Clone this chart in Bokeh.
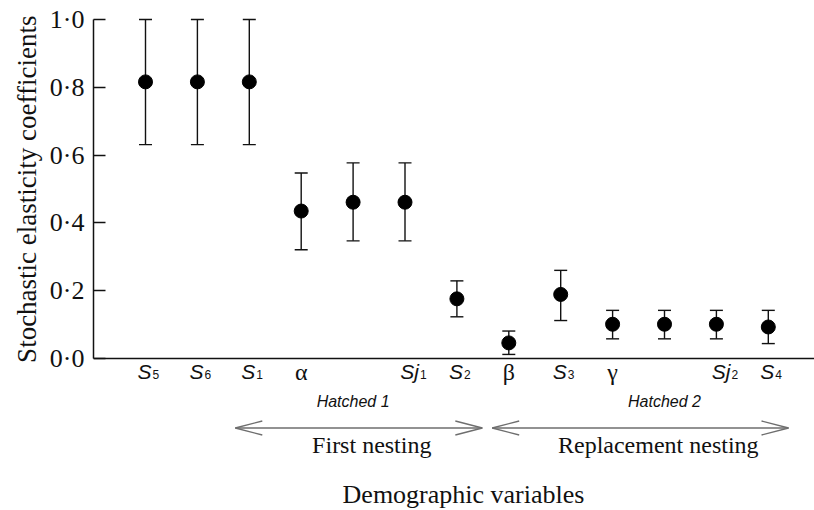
from bokeh.plotting import figure
from bokeh.models import (ColumnDataSource, Range1d, Whisker, TeeHead, Span,
                          FixedTicker, CustomJSTickFormatter, Title)
from bokeh.embed import file_html
from bokeh.resources import INLINE
from bokeh.core.properties import value

# ---------------- data ----------------
categories = ["S5", "S6", "S1", "alpha", "Hatched1", "Sj1", "S2",
              "beta", "S3", "gamma", "Hatched2", "Sj2", "S4"]
label_main = ["S", "S", "S", "α", "", "Sj", "S", "β", "S", "γ", "", "Sj", "S"]
label_sub = ["5", "6", "1", "", "", "1", "2", "", "3", "", "", "2", "4"]
elasticity = [0.816, 0.816, 0.816, 0.435, 0.461, 0.461, 0.176,
              0.046, 0.189, 0.101, 0.101, 0.101, 0.093]
upper_ci = [1.000, 1.000, 1.000, 0.547, 0.577, 0.577, 0.229,
            0.081, 0.260, 0.142, 0.142, 0.142, 0.142]
lower_ci = [0.631, 0.631, 0.631, 0.321, 0.347, 0.347, 0.123,
            0.012, 0.112, 0.058, 0.058, 0.058, 0.044]
hatched_labels = ["Hatched 1", "Hatched 2"]
hatched_index = [4, 10]
nesting_labels = ["First nesting", "Replacement nesting"]
nesting_start = [1.73, 6.68]
nesting_end = [6.49, 12.39]
nesting_label_x = [4.36, 9.88]
y_ticks = [0.0, 0.2, 0.4, 0.6, 0.8, 1.0]
y_title = "Stochastic elasticity coefficients"
x_title = "Demographic variables"

# ---------------- layout helpers ----------------
W, H = 814, 510
LEFT = 93
Y0_PX, Y1_PX = 358.0, 19.0          # pixel rows of y=0 and y=1
PPU_Y = Y0_PX - Y1_PX
X0_PX, PPU_X = 145.0, 51.9          # pixel column of first category, spacing


def py(px):
    return (Y0_PX - px) / PPU_Y


def pxx(px):
    return (px - X0_PX) / PPU_X


x_lo = pxx(LEFT)
x_hi = pxx(W)

SERIF = "Liberation Serif"
SANS = "Liberation Sans"
INK = "#111111"

p = figure(width=W, height=H, output_backend="svg", toolbar_location=None,
           x_range=Range1d(x_lo, x_hi), y_range=Range1d(py(H), py(0)),
           min_border_left=LEFT, min_border_right=0, min_border_top=0,
           min_border_bottom=0)
p.outline_line_color = None
p.grid.visible = False
p.xaxis.visible = False
p.background_fill_color = "white"
p.border_fill_color = "white"

yax = p.yaxis[0]
yax.bounds = (0, 1)
yax.ticker = FixedTicker(ticks=y_ticks)
yax.formatter = CustomJSTickFormatter(code="return tick.toFixed(1).replace('.', '\u00b7')")
yax.major_tick_in = 12
yax.major_tick_out = 0
yax.minor_tick_in = 0
yax.minor_tick_out = 0
yax.axis_line_width = 1.5
yax.axis_line_color = INK
yax.major_tick_line_width = 1.5
yax.major_tick_line_color = INK
yax.major_label_text_font = SERIF
yax.major_label_text_font_size = "26px"
yax.major_label_text_color = INK
yax.major_label_standoff = 9

# y axis title as a side title, its top end aligned with the top of the axis
p.add_layout(Title(text=y_title, align="right", offset=15, vertical_align="middle",
                   standoff=8, text_font=SERIF, text_font_style="normal",
                   text_font_size="27px", text_color=INK), "left")

# x axis line at y = 0
p.add_layout(Span(location=0, dimension="width", line_color=INK, line_width=1.5))

idx = list(range(len(categories)))
src = ColumnDataSource(dict(x=idx, y=elasticity, upper=upper_ci, lower=lower_ci))

whisk = Whisker(source=src, base="x", upper="upper", lower="lower",
                line_color=INK, line_width=1.4,
                upper_head=TeeHead(size=13, line_color=INK, line_width=1.4),
                lower_head=TeeHead(size=13, line_color=INK, line_width=1.4))
p.add_layout(whisk)
p.scatter("x", "y", source=src, size=14, marker="circle",
          fill_color="black", line_color="black")

# category labels: italic S / Sj + upright subscripts, greek letters in serif
s_idx = [i for i in idx if label_main[i] in ("S", "Sj")]
g_idx = [i for i in idx if label_main[i] in ("α", "β", "γ")]
s_src = ColumnDataSource(dict(
    x=s_idx, y=[py(370.5)] * len(s_idx), ys=[py(373.5)] * len(s_idx),
    main=[label_main[i] for i in s_idx],
    sub=[label_sub[i] for i in s_idx],
    off=[6 if label_main[i] == "S" else 14 for i in s_idx],
    soff=[7 if label_main[i] == "S" else 15 for i in s_idx]))
p.text("x", "y", text="main", source=s_src, x_offset="off",
       text_align="right", text_baseline="middle",
       text_font=value(SANS), text_font_style="italic",
       text_font_size="21px", text_color=INK)
p.text("x", "ys", text="sub", source=s_src, x_offset="soff",
       text_align="left", text_baseline="middle",
       text_font=value(SANS), text_font_size="12px", text_color=INK)
g_src = ColumnDataSource(dict(x=g_idx, y=[py(371)] * len(g_idx),
                              t=[label_main[i] for i in g_idx]))
p.text("x", "y", text="t", source=g_src, text_align="center",
       text_baseline="middle", text_font=value(SERIF),
       text_font_size="24px", text_color=INK)

# "Hatched" labels
h_src = ColumnDataSource(dict(x=hatched_index, y=[py(401)] * 2, t=hatched_labels))
p.text("x", "y", text="t", source=h_src, text_align="center",
       text_baseline="middle", text_font=value(SANS),
       text_font_style="italic", text_font_size="16px", text_color=INK)

# nesting arrows
arrow_y = py(427.5)
head_dx = 27 / PPU_X
head_dy = 7 / PPU_Y
p.segment(x0=nesting_start, y0=[arrow_y] * 2, x1=nesting_end, y1=[arrow_y] * 2,
          line_color="#6e6e6e", line_width=1.3)
hx, hy = [], []
for s, e in zip(nesting_start, nesting_end):
    hx.append([s + head_dx, s, s + head_dx])
    hy.append([arrow_y + head_dy, arrow_y, arrow_y - head_dy])
    hx.append([e - head_dx, e, e - head_dx])
    hy.append([arrow_y + head_dy, arrow_y, arrow_y - head_dy])
p.multi_line(hx, hy, line_color="#6e6e6e", line_width=1.3)

n_src = ColumnDataSource(dict(x=nesting_label_x, y=[py(444.5)] * 2, t=nesting_labels))
p.text("x", "y", text="t", source=n_src, text_align="center",
       text_baseline="middle", text_font=value(SERIF),
       text_font_size="24px", text_color=INK)

# x axis title
p.text(x=[pxx(463)], y=[py(494)], text=[x_title],
       text_align="center", text_baseline="middle", text_font=value(SERIF),
       text_font_size="26px", text_color=INK)

open("out.html", "w").write(file_html(p, INLINE))
